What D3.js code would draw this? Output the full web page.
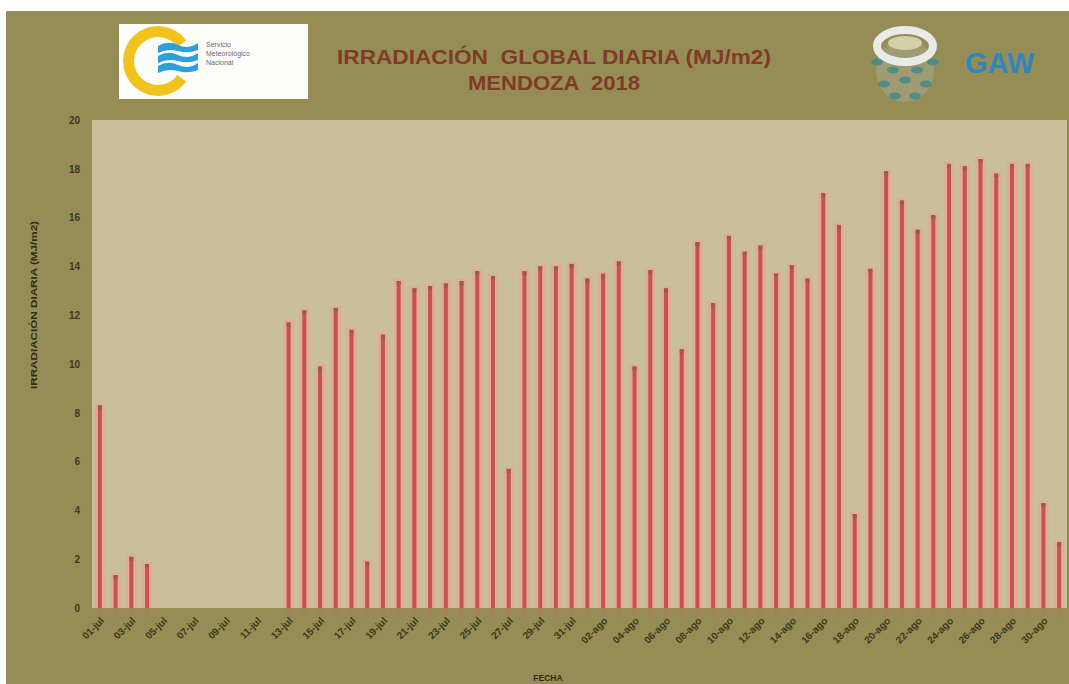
<!DOCTYPE html>
<html>
<head>
<meta charset="utf-8">
<script src="https://cdn.jsdelivr.net/npm/d3@7"></script>
<style>
  body { margin: 0; background: #fff; }
  svg { display: block; font-family: "Liberation Sans", Arial, sans-serif; }
</style>
</head>
<body>
<svg width="1069" height="684"></svg>
<script>
const julDays = d3.range(1, 32).map(d => String(d).padStart(2, "0") + "-jul");
const agoDays = d3.range(1, 32).map(d => String(d).padStart(2, "0") + "-ago");
const fechas = julDays.concat(agoDays);

// irradiación diaria (MJ/m2); null = sin dato
const julio = [8.3, 1.35, 2.1, 1.8, null, null, null, null, null, null, null, null,
    11.7, 12.2, 9.9, 12.3, 11.4, 1.9, 11.2, 13.4, 13.1, 13.2, 13.3, 13.4, 13.8, 13.6,
    5.7, 13.8, 14.0, 14.0, 14.1];
const agosto = [13.5, 13.7, 14.2, 9.9, 13.85, 13.1, 10.6, 15.0, 12.5, 15.25, 14.6, 14.85,
    13.7, 14.05, 13.5, 17.0, 15.7, 3.85, 13.9, 17.9, 16.7, 15.5, 16.1, 18.2, 18.1, 18.4,
    17.8, 18.2, 18.2, 4.3, 2.7];
const valores = julio.concat(agosto);

const yTicks = d3.range(0, 21, 2);
const tickFechas = fechas.filter((d, i) => i % 2 === 0);

const svg = d3.select("svg");
const margin = { left: 92, right: 2, top: 120, bottom: 76 };
const W = 1069, H = 684;

// fondo general
svg.append("rect").attr("x", 6).attr("y", 11).attr("width", W - 6).attr("height", H - 11)
    .attr("fill", "#968d56");

const x = d3.scaleBand().domain(fechas)
    .range([margin.left, W - margin.right]);
const y = d3.scaleLinear().domain([0, 20]).range([H - margin.bottom, margin.top]);

svg.append("rect")
    .attr("x", margin.left).attr("y", margin.top)
    .attr("width", W - margin.right - margin.left)
    .attr("height", y(0) - margin.top)
    .attr("fill", "#c9bf99");

const datos = fechas.map((f, i) => ({ fecha: f, valor: valores[i] })).filter(d => d.valor != null);

const bw = 4;
const cx = d => x(d.fecha) + x.bandwidth() / 2;
const g = svg.append("g");

// halo claro alrededor de cada barra
g.selectAll("rect.halo").data(datos).enter().append("rect")
    .attr("class", "halo")
    .attr("x", d => cx(d) - bw / 2 - 3)
    .attr("y", d => y(d.valor) - 2)
    .attr("width", bw + 6)
    .attr("height", d => y(0) - y(d.valor) + 2)
    .attr("fill", "#e2ab94");

// reflejo bajo el eje
g.selectAll("rect.refl").data(datos).enter().append("rect")
    .attr("x", d => cx(d) - bw / 2)
    .attr("y", y(0))
    .attr("width", bw)
    .attr("height", 9)
    .attr("fill", "#b0785a")
    .attr("opacity", 0.5);

g.selectAll("rect.bar").data(datos).enter().append("rect")
    .attr("class", "bar")
    .attr("x", d => cx(d) - bw / 2)
    .attr("y", d => y(d.valor))
    .attr("width", bw)
    .attr("height", d => y(0) - y(d.valor))
    .attr("fill", "#c4534f");

g.selectAll("rect.cap").data(datos).enter().append("rect")
    .attr("x", d => cx(d) - bw / 2)
    .attr("y", d => y(d.valor))
    .attr("width", bw)
    .attr("height", 4)
    .attr("fill", "#985e4a");

// ejes
const yAxis = svg.append("g")
    .attr("transform", `translate(${margin.left - 10},0)`)
    .call(d3.axisLeft(y).tickValues(yTicks).tickSize(0).tickPadding(2));
yAxis.select(".domain").remove();
yAxis.selectAll("text")
    .attr("fill", "#3b391c").attr("font-size", 10).attr("font-weight", "bold");

const xAxis = svg.append("g")
    .attr("transform", `translate(0,${y(0) + 7})`)
    .call(d3.axisBottom(x).tickValues(tickFechas).tickSize(0).tickPadding(2));
xAxis.select(".domain").remove();
xAxis.selectAll("text")
    .attr("fill", "#3b391c").attr("font-size", 10).attr("font-weight", "bold")
    .attr("text-anchor", "end")
    .attr("dx", "-0.1em").attr("dy", "0.6em")
    .attr("transform", "rotate(-45)");

svg.append("text")
    .attr("transform", `translate(37,305) rotate(-90)`)
    .attr("text-anchor", "middle")
    .attr("font-size", 8.5).attr("font-weight", "bold").attr("fill", "#2f2d16")
    .attr("textLength", 168).attr("lengthAdjust", "spacingAndGlyphs")
    .text("IRRADIACIÓN DIARIA (MJ/m2)");

svg.append("text")
    .attr("x", 548).attr("y", 681)
    .attr("text-anchor", "middle")
    .attr("font-size", 8.5).attr("font-weight", "bold").attr("fill", "#2f2d16")
    .text("FECHA");

// títulos
svg.append("text")
    .attr("x", 554).attr("y", 64)
    .attr("text-anchor", "middle")
    .attr("font-size", 20).attr("font-weight", "bold").attr("fill", "#7e3b26")
    .attr("textLength", 434).attr("lengthAdjust", "spacingAndGlyphs")
    .attr("xml:space", "preserve")
    .text("IRRADIACIÓN  GLOBAL DIARIA (MJ/m2)");
svg.append("text")
    .attr("x", 554).attr("y", 90)
    .attr("text-anchor", "middle")
    .attr("font-size", 20).attr("font-weight", "bold").attr("fill", "#7e3b26")
    .attr("textLength", 172).attr("lengthAdjust", "spacingAndGlyphs")
    .attr("xml:space", "preserve")
    .text("MENDOZA  2018");

// logo SMN
const smn = svg.append("g");
smn.append("rect").attr("x", 119).attr("y", 24).attr("width", 189).attr("height", 75).attr("fill", "#fdfdfb");
const arc = d3.arc().innerRadius(24).outerRadius(35)
    .startAngle(0.7 * Math.PI).endAngle(2.3 * Math.PI);
smn.append("path").attr("d", arc()).attr("transform", "translate(158,61)")
    .attr("fill", "#f2c31c");
[42, 52, 62].forEach(yy => {
    smn.append("path")
        .attr("d", `M158,${yy + 4} q10,-6 20,-1 t20,-2 v7 q-10,4 -20,1 t-20,2 z`)
        .attr("fill", "#2c9fdc");
});
["Servicio", "Meteorológico", "Nacional"].forEach((t, i) => {
    smn.append("text").attr("x", 206).attr("y", 47 + i * 9)
        .attr("font-size", 7).attr("fill", "#6a6a6a").text(t);
});

// logo GAW
const gaw = svg.append("g");
gaw.append("ellipse").attr("cx", 905).attr("cy", 70).attr("rx", 29).attr("ry", 32)
    .attr("fill", "#a7a88d").attr("opacity", 0.55);
gaw.append("ellipse").attr("cx", 905).attr("cy", 46).attr("rx", 28).attr("ry", 16)
    .attr("fill", "none").attr("stroke", "#e9ebe8").attr("stroke-width", 8);
gaw.append("ellipse").attr("cx", 905).attr("cy", 43).attr("rx", 17).attr("ry", 7)
    .attr("fill", "#d6d0a8");
[[877, 62], [893, 70], [917, 70], [933, 62], [884, 84], [926, 84], [905, 80], [895, 96], [915, 96]].forEach(p => {
    gaw.append("ellipse").attr("cx", p[0]).attr("cy", p[1]).attr("rx", 6).attr("ry", 3.5)
        .attr("fill", "#3d8a88").attr("opacity", 0.8);
});
gaw.append("text").attr("x", 965).attr("y", 73)
    .attr("font-size", 29).attr("font-weight", "bold").attr("fill", "#2f86c0")
    .text("GAW");
</script>
</body>
</html>
